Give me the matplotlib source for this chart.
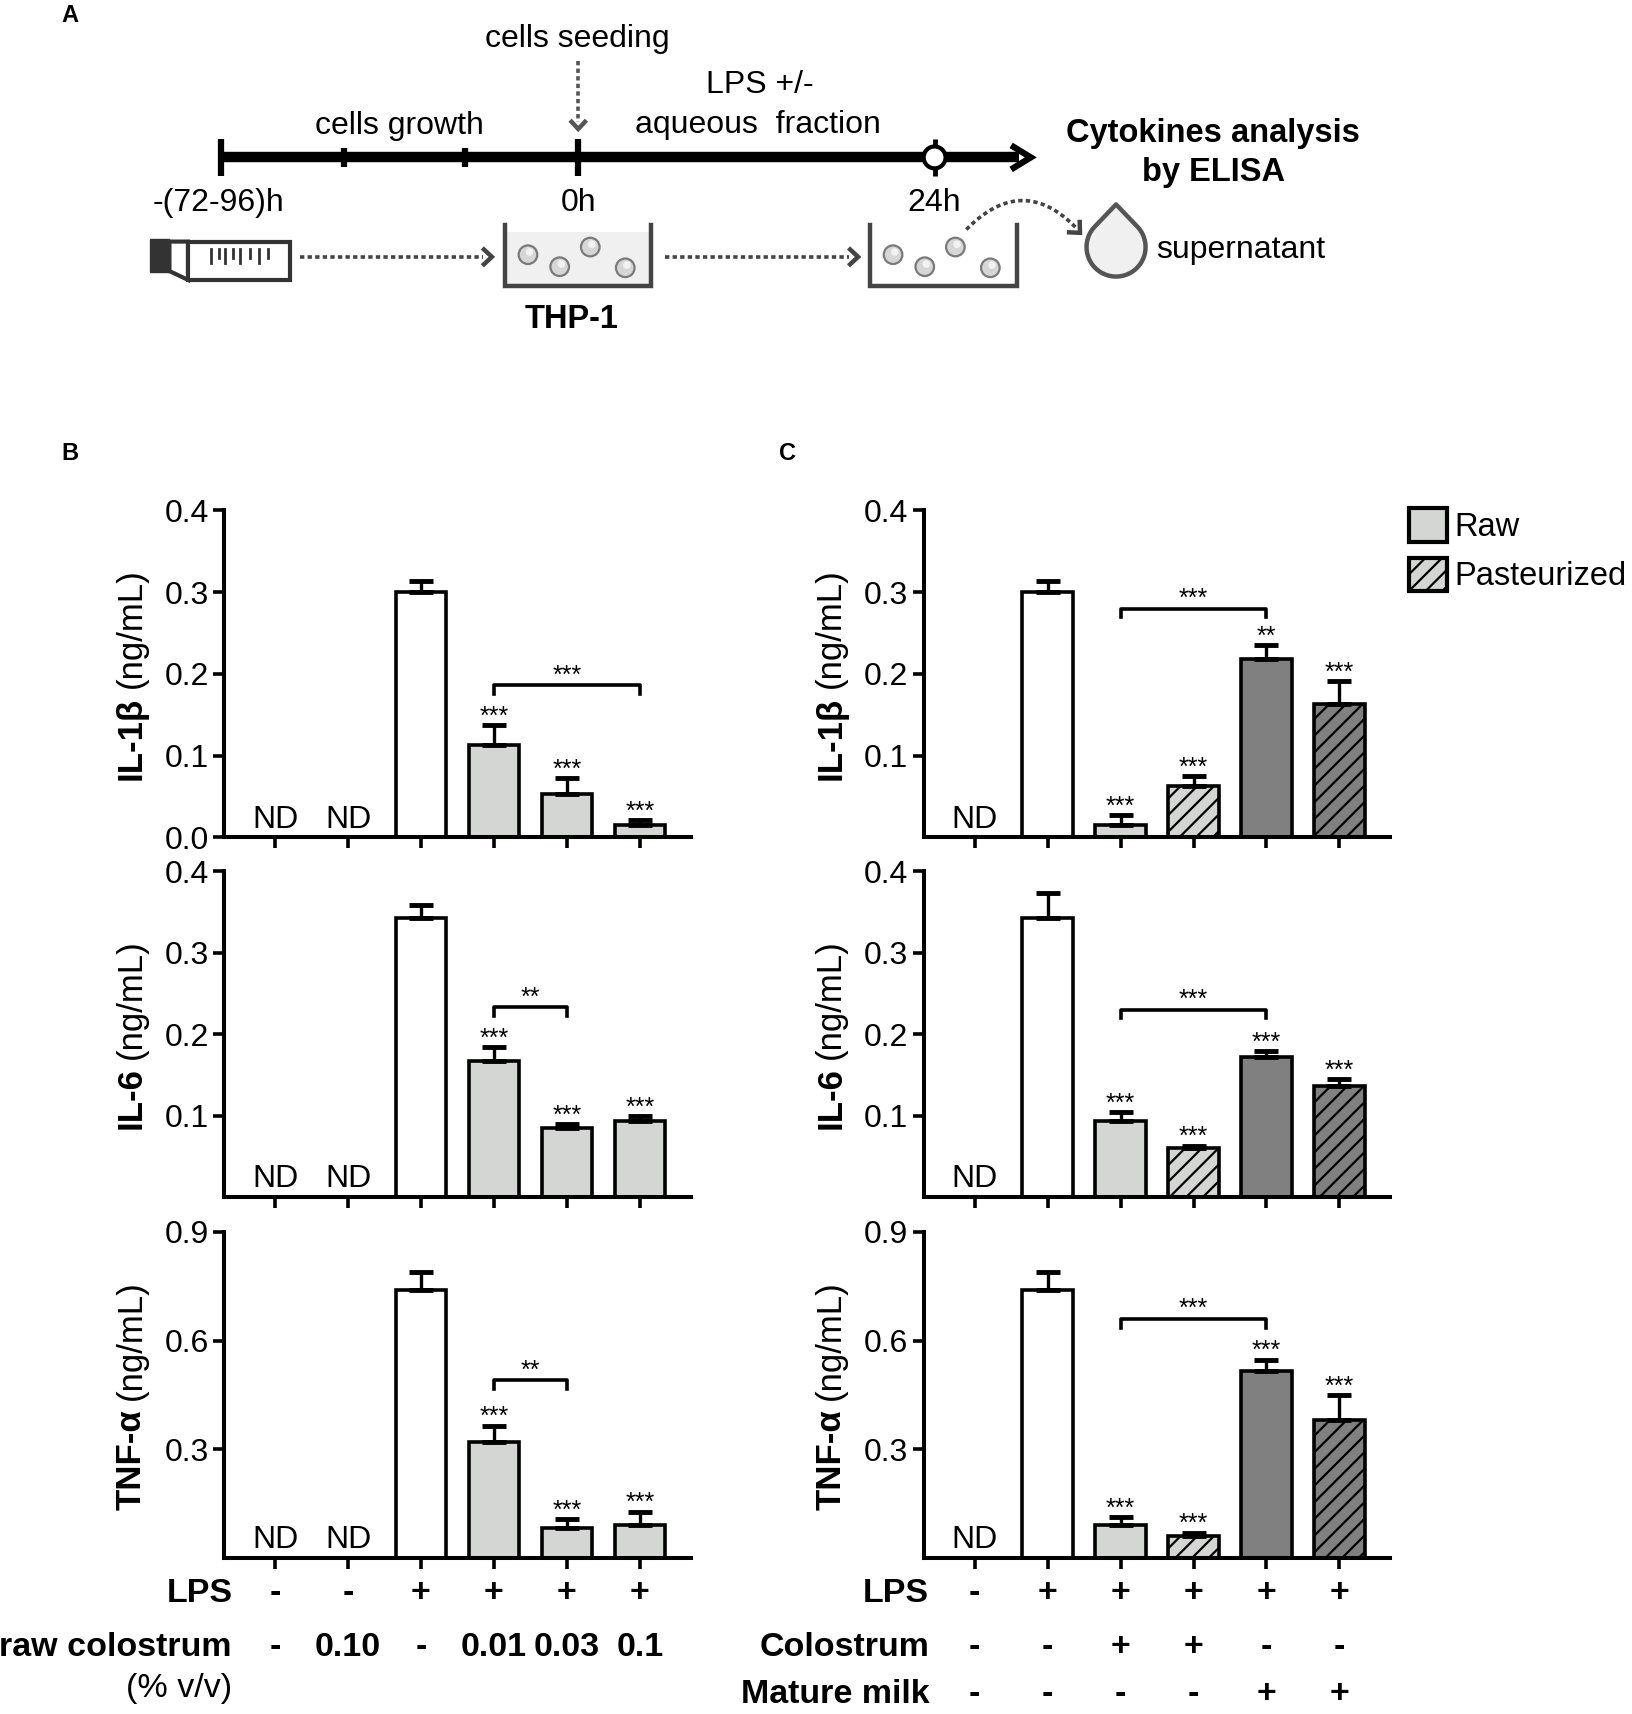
import numpy as np
import matplotlib
matplotlib.use('Agg')
import matplotlib.pyplot as plt
from matplotlib.patches import Patch, Rectangle, Circle, Polygon
from matplotlib.transforms import blended_transform_factory

plt.rcParams['font.family'] = ['Liberation Sans', 'DejaVu Sans']
plt.rcParams['hatch.linewidth'] = 1.6

# layout grid measured on the reference (reference pixel units)
W, H = 1493.0, 1568.0

LIGHT = '#d4d6d4'
DARK = '#808080'

# ---------------- panel B : raw colostrum doses ----------------
b_lps = ['-', '-', '+', '+', '+', '+']
b_dose = ['-', '0.10', '-', '0.01', '0.03', '0.1']
b_colors = ['white', 'white', 'white', LIGHT, LIGHT, LIGHT]
b_hatch = ['', '', '', '', '', '']
b_nd = [True, True, False, False, False, False]

b_il1 = [0, 0, 0.300, 0.113, 0.053, 0.015]
b_il1_err = [0, 0, 0.014, 0.024, 0.019, 0.006]
b_il1_stars = ['', '', '', '***', '***', '***']
b_il1_bracket = (3, 5, 0.186, '***')

b_il6 = [0, 0, 0.342, 0.167, 0.085, 0.093]
b_il6_err = [0, 0, 0.016, 0.017, 0.004, 0.006]
b_il6_stars = ['', '', '', '***', '***', '***']
b_il6_bracket = (3, 4, 0.233, '**')

b_tnf = [0, 0, 0.740, 0.320, 0.082, 0.091]
b_tnf_err = [0, 0, 0.048, 0.045, 0.024, 0.036]
b_tnf_stars = ['', '', '', '***', '***', '***']
b_tnf_bracket = (3, 4, 0.490, '**')

# ---------------- panel C : colostrum vs mature milk ----------------
c_lps = ['-', '+', '+', '+', '+', '+']
c_colostrum = ['-', '-', '+', '+', '-', '-']
c_mature = ['-', '-', '-', '-', '+', '+']
c_colors = ['white', 'white', LIGHT, LIGHT, DARK, DARK]
c_hatch = ['', '', '', '//', '', '//']
c_nd = [True, False, False, False, False, False]

c_il1 = [0, 0.300, 0.015, 0.063, 0.218, 0.163]
c_il1_err = [0, 0.014, 0.012, 0.012, 0.017, 0.028]
c_il1_stars = ['', '', '***', '***', '**', '***']
c_il1_bracket = (2, 4, 0.280, '***')

c_il6 = [0, 0.342, 0.093, 0.060, 0.172, 0.136]
c_il6_err = [0, 0.031, 0.011, 0.003, 0.007, 0.009]
c_il6_stars = ['', '', '***', '***', '***', '***']
c_il6_bracket = (2, 4, 0.230, '***')

c_tnf = [0, 0.740, 0.091, 0.060, 0.517, 0.380]
c_tnf_err = [0, 0.048, 0.021, 0.009, 0.030, 0.070]
c_tnf_stars = ['', '', '***', '***', '***', '***']
c_tnf_bracket = (2, 4, 0.660, '***')

legend_labels = ['Raw', 'Pasteurized']

STAR_FS = 18


def bar_panel(ax, vals, errs, colors, hatches, nd, stars, bracket, ymax, yticks):
    vals = np.asarray(vals, float)
    errs = np.asarray(errs, float)
    x = np.arange(len(vals))
    bars = ax.bar(x, vals, width=0.69, color=colors, edgecolor='black',
                  linewidth=2.6, zorder=2)
    for b, h in zip(bars, hatches):
        if h:
            b.set_hatch(h)
    m = vals > 0
    ax.errorbar(x[m], vals[m], yerr=[np.zeros(m.sum()), errs[m]], fmt='none',
                ecolor='black', elinewidth=2.4, capsize=8.5, capthick=3.5,
                zorder=3)
    for i, s in enumerate(stars):
        if s:
            ax.annotate(s, (x[i], vals[i] + errs[i]), xytext=(0, 1),
                        textcoords='offset points', ha='center',
                        va='baseline', fontsize=STAR_FS)
    for i, f in enumerate(nd):
        if f:
            ax.annotate('ND', (x[i], 0), xytext=(0, 2),
                        textcoords='offset points', ha='center',
                        va='bottom', fontsize=23)
    i1, i2, yb, lab = bracket
    d = ymax * 0.027
    ax.plot([i1, i1, i2, i2], [yb - d, yb, yb, yb - d], color='black',
            lw=2.6, zorder=3)
    ax.annotate(lab, ((i1 + i2) / 2, yb), xytext=(0, 2),
                textcoords='offset points', ha='center', va='baseline',
                fontsize=STAR_FS)

    ax.set_xlim(-0.7, 5.7)
    ax.set_ylim(0, ymax)
    ax.set_xticks(x)
    ax.set_xticklabels([])
    ax.set_yticks(yticks)
    ax.set_yticklabels(['%.1f' % t for t in yticks])
    ax.spines[['top', 'right']].set_visible(False)
    for sp in ['left', 'bottom']:
        ax.spines[sp].set_linewidth(2.9)
    ax.tick_params(axis='both', direction='out', length=8, width=2.6,
                   labelsize=23, pad=3)
    ax.set_facecolor('none')


def dotted(ax, xs, ys, color='#444444', lw=2.6):
    ax.plot(xs, ys, color=color, lw=lw, ls=(0, (1.2, 0.9)),
            dash_capstyle='butt')


def chevron(ax, tip, direction, size=11, color='#444444', lw=3.2):
    d = np.asarray(direction, float)
    d = d / np.hypot(*d)
    pts = []
    for ang in (0.75, -0.75):
        c, s = np.cos(ang), np.sin(ang)
        r = np.array([c * d[0] - s * d[1], s * d[0] + c * d[1]])
        pts.append(np.asarray(tip) - size * r)
    ax.plot([pts[0][0], tip[0], pts[1][0]], [pts[0][1], tip[1], pts[1][1]],
            color=color, lw=lw, solid_joinstyle='miter',
            solid_capstyle='butt')


def well(ax, x0, filled):
    w, top, bot = 134, 206, 262
    if filled:
        ax.add_patch(Rectangle((x0, 212), w, bot - 212, facecolor='#f0f0f0',
                               edgecolor='none', zorder=1))
    ax.plot([x0, x0, x0 + w, x0 + w], [top, bot, bot, top], color='#444444',
            lw=3.2, solid_joinstyle='miter', zorder=2)
    for cx, cy in [(21, 27), (50, 38), (78, 20), (110, 39)]:
        ax.add_patch(Circle((x0 + cx, 206 + cy), 8.5, facecolor='#d6d6d6',
                            edgecolor='#7a7a7a', lw=1.6, zorder=3))
        ax.add_patch(Circle((x0 + cx + 1.5, 206 + cy - 2.5), 3.5,
                            facecolor='#f2f2f2', edgecolor='none', zorder=4))


def draw_schematic(ax):
    k = 'black'
    ax.plot([202, 932], [144, 144], color=k, lw=7.5, solid_capstyle='butt')
    ax.plot([925, 943, 925], [133, 144, 155], color=k, lw=4.5,
            solid_joinstyle='miter', solid_capstyle='butt')
    for xt in [202, 529]:
        ax.plot([xt, xt], [127, 161], color=k, lw=4.5, solid_capstyle='butt')
    for xt in [315, 425]:
        ax.plot([xt, xt], [135, 153], color=k, lw=4.5, solid_capstyle='butt')
    ax.plot([855, 855], [127, 161], color=k, lw=3.5, solid_capstyle='butt')
    ax.add_patch(Circle((855, 144), 10, facecolor='white', edgecolor=k,
                        lw=3, zorder=3))

    fs = 23
    ax.text(528, 36, 'cells seeding', ha='center', va='center', fontsize=fs)
    dotted(ax, [529, 529], [56, 112], color='#555555')
    chevron(ax, (529, 118), (0, 1), size=11, color='#555555')
    ax.text(365, 115, 'cells growth', ha='center', va='center', fontsize=fs)
    ax.text(695, 78, 'LPS +/-', ha='center', va='center', fontsize=fs)
    ax.text(693, 114, 'aqueous  fraction', ha='center', va='center',
            fontsize=fs)
    ax.text(200, 186, '-(72-96)h', ha='center', va='center', fontsize=fs)
    ax.text(529, 186, '0h', ha='center', va='center', fontsize=fs)
    ax.text(855, 186, '24h', ha='center', va='center', fontsize=fs)
    ax.text(1110, 122, 'Cytokines analysis', ha='center', va='center',
            fontsize=23.5, fontweight='bold')
    ax.text(1110, 158, 'by ELISA', ha='center', va='center', fontsize=23.5,
            fontweight='bold')

    # culture flask
    ax.add_patch(Rectangle((137, 219), 18, 30, facecolor='#333333',
                           edgecolor='#333333', lw=1))
    ax.add_patch(Polygon([(155, 221), (172, 221), (172, 256), (155, 248)],
                         closed=True, facecolor='white', edgecolor='#333333',
                         lw=3))
    ax.add_patch(Rectangle((172, 221), 93, 35, facecolor='white',
                           edgecolor='#333333', lw=3))
    for j, xg in enumerate([193, 200, 206, 213, 220, 229, 237, 245]):
        y2 = 241 if j % 2 == 0 else 236
        ax.plot([xg, xg], [228, y2], color='#333333', lw=2)

    dotted(ax, [274, 442], [235, 235])
    chevron(ax, (450, 235), (1, 0), size=12)
    well(ax, 462, True)
    dotted(ax, [608, 777], [235, 235])
    chevron(ax, (785, 235), (1, 0), size=12)
    well(ax, 796, False)
    ax.text(523, 292, 'THP-1', ha='center', va='center', fontsize=23.5,
            fontweight='bold')

    # curved arrow to the supernatant drop
    p0, p1, p2 = np.array([884, 210]), np.array([935, 158]), np.array([984, 208])
    t = np.linspace(0, 1, 60)[:, None]
    curve = (1 - t) ** 2 * p0 + 2 * (1 - t) * t * p1 + t ** 2 * p2
    dotted(ax, curve[:, 0], curve[:, 1])
    chevron(ax, (988, 213), p2 - p1, size=12)

    cx, cy, r, tip = 1021, 226, 27, 187
    beta = np.arccos(r / (cy - tip))
    ph = np.linspace(-np.pi / 2 + beta, 3 * np.pi / 2 - beta, 80)
    pts = np.column_stack([cx + r * np.cos(ph), cy + r * np.sin(ph)])
    pts = np.vstack([pts, [cx, tip]])
    ax.add_patch(Polygon(pts, closed=True, facecolor='#f0f0f0',
                         edgecolor='#555555', lw=3.2, joinstyle='round'))
    ax.text(1058, 229, 'supernatant', ha='left', va='center', fontsize=fs)


def split_ylabel(fig, xc, yc, bold, rest, size=25, gap=9):
    rend = fig.canvas.get_renderer()
    t1 = fig.text(xc, 0, bold, rotation=90, ha='center', va='bottom',
                  fontsize=size, fontweight='bold')
    t2 = fig.text(xc, 0, rest, rotation=90, ha='center', va='bottom',
                  fontsize=size)
    h1 = t1.get_window_extent(rend).height
    h2 = t2.get_window_extent(rend).height
    fh = fig.bbox.height
    y0 = yc * fh - (h1 + gap + h2) / 2
    t1.set_y(y0 / fh)
    t2.set_y((y0 + h1 + gap) / fh)


fig = plt.figure(figsize=(16.32, 17.14), dpi=100)
ax0 = fig.add_axes([0, 0, 1, 1])
ax0.set_xlim(0, W)
ax0.set_ylim(H, 0)
ax0.axis('off')

draw_schematic(ax0)

rows = [(467, 766), (797, 1095), (1127, 1425)]
lefts = [205, 845]
width = 427


def make_ax(col, row):
    top, bot = rows[row]
    return fig.add_axes([lefts[col] / W, 1 - bot / H, width / W,
                         (bot - top) / H])


t4 = [0.0, 0.1, 0.2, 0.3, 0.4]
t4n = [0.1, 0.2, 0.3, 0.4]
t9 = [0.3, 0.6, 0.9]

axB1 = make_ax(0, 0)
bar_panel(axB1, b_il1, b_il1_err, b_colors, b_hatch, b_nd, b_il1_stars,
          b_il1_bracket, 0.4, t4)
axB2 = make_ax(0, 1)
bar_panel(axB2, b_il6, b_il6_err, b_colors, b_hatch, b_nd, b_il6_stars,
          b_il6_bracket, 0.4, t4n)
axB3 = make_ax(0, 2)
bar_panel(axB3, b_tnf, b_tnf_err, b_colors, b_hatch, b_nd, b_tnf_stars,
          b_tnf_bracket, 0.9, t9)

axC1 = make_ax(1, 0)
bar_panel(axC1, c_il1, c_il1_err, c_colors, c_hatch, c_nd, c_il1_stars,
          c_il1_bracket, 0.4, t4n)
axC2 = make_ax(1, 1)
bar_panel(axC2, c_il6, c_il6_err, c_colors, c_hatch, c_nd, c_il6_stars,
          c_il6_bracket, 0.4, t4n)
axC3 = make_ax(1, 2)
bar_panel(axC3, c_tnf, c_tnf_err, c_colors, c_hatch, c_nd, c_tnf_stars,
          c_tnf_bracket, 0.9, t9)

# legend
handles = [Patch(facecolor=LIGHT, edgecolor='black', linewidth=3),
           Patch(facecolor=LIGHT, edgecolor='black', linewidth=3, hatch='//')]
fig.legend(handles, legend_labels, loc='upper left',
           bbox_to_anchor=(1289 / W, 1 - 465 / H), frameon=False,
           fontsize=23.5, handlelength=1.15, handleheight=1.2,
           handletextpad=0.25, labelspacing=0.45, borderpad=0,
           borderaxespad=0)

# treatment table below the axes
fs_t = 24.5
trB = blended_transform_factory(axB3.transData, ax0.transData)
trC = blended_transform_factory(axC3.transData, ax0.transData)
for i, s in enumerate(b_lps):
    ax0.text(i, 1458, s, transform=trB, ha='center', va='center',
             fontsize=fs_t, fontweight='bold')
for i, s in enumerate(b_dose):
    ax0.text(i, 1507, s, transform=trB, ha='center', va='center',
             fontsize=fs_t, fontweight='bold')
ax0.text(213, 1458, 'LPS', ha='right', va='center', fontsize=fs_t,
         fontweight='bold')
ax0.text(212, 1507, 'raw colostrum', ha='right', va='center', fontsize=fs_t,
         fontweight='bold')
ax0.text(212, 1545, '(% v/v)', ha='right', va='center', fontsize=fs_t)

for yrow, vals in [(1458, c_lps), (1507, c_colostrum), (1550, c_mature)]:
    for i, s in enumerate(vals):
        ax0.text(i, yrow, s, transform=trC, ha='center', va='center',
                 fontsize=fs_t, fontweight='bold')
ax0.text(850, 1458, 'LPS', ha='right', va='center', fontsize=fs_t,
         fontweight='bold')
ax0.text(850, 1507, 'Colostrum', ha='right', va='center', fontsize=fs_t,
         fontweight='bold')
ax0.text(850, 1550, 'Mature milk', ha='right', va='center', fontsize=fs_t,
         fontweight='bold')

# panel letters
for lab, xl, yl in [('A', 64, 14), ('B', 64, 415), ('C', 720, 415)]:
    ax0.text(xl, yl, lab, ha='center', va='center', fontsize=17,
             fontweight='bold')

fig.canvas.draw()
ylabels = [('IL-1β', '(ng/mL)'), ('IL-6', '(ng/mL)'), ('TNF-α', '(ng/mL)')]
for col, axs, xc in [(0, [axB1, axB2, axB3], 120), (1, [axC1, axC2, axC3], 760)]:
    for a, (bl, rs) in zip(axs, ylabels):
        p = a.get_position()
        split_ylabel(fig, xc / W, p.y0 + p.height / 2, bl, rs)

fig.savefig('out.png', dpi=100)
